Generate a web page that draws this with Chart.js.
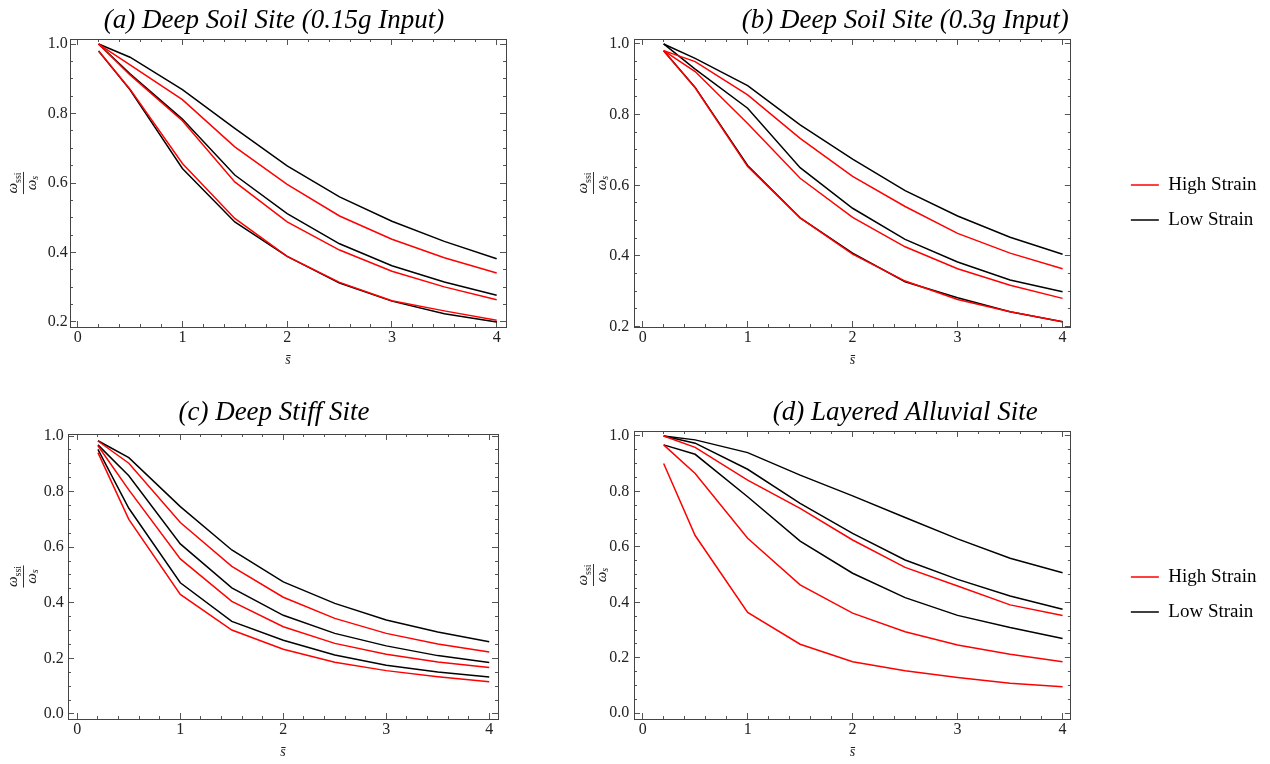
<!DOCTYPE html>
<html>
<head>
<meta charset="utf-8">
<script src="https://cdn.jsdelivr.net/npm/chart.js@4.4.1/dist/chart.umd.min.js"></script>
<style>
  body { margin: 0; background: #fff; width: 1270px; height: 764px; overflow: hidden; position: relative; }
  canvas { position: absolute; }
</style>
</head>
<body>
<canvas id="chartA" width="548" height="372" style="left:0px;top:0px"></canvas>
<canvas id="chartB" width="726" height="405" style="left:544px;top:0px"></canvas>
<canvas id="chartC" width="548" height="384" style="left:0px;top:380px"></canvas>
<canvas id="chartD" width="726" height="429" style="left:544px;top:380px"></canvas>
<script>
// s-bar values (x)
const sBar = [0.2, 0.5, 1, 1.5, 2, 2.5, 3, 3.5, 4];

// (a) Deep Soil Site (0.15g Input)
const aHigh1 = [1.0, 0.94, 0.84, 0.704, 0.596, 0.505, 0.438, 0.385, 0.341];
const aHigh2 = [1.0, 0.911, 0.779, 0.603, 0.488, 0.407, 0.346, 0.301, 0.264];
const aHigh3 = [0.98, 0.87, 0.656, 0.498, 0.389, 0.314, 0.261, 0.232, 0.205];
const aLow1 = [1.0, 0.962, 0.869, 0.757, 0.649, 0.56, 0.49, 0.432, 0.382];
const aLow2 = [1.0, 0.914, 0.784, 0.623, 0.512, 0.425, 0.362, 0.315, 0.277];
const aLow3 = [0.98, 0.868, 0.642, 0.488, 0.389, 0.312, 0.26, 0.224, 0.2];

// (b) Deep Soil Site (0.3g Input)
const bHigh1 = [0.981, 0.95, 0.856, 0.733, 0.625, 0.54, 0.464, 0.408, 0.364];
const bHigh2 = [0.981, 0.922, 0.775, 0.62, 0.509, 0.426, 0.364, 0.317, 0.28];
const bHigh3 = [0.981, 0.876, 0.653, 0.508, 0.405, 0.329, 0.277, 0.242, 0.214];
const bLow1 = [1.0, 0.959, 0.882, 0.771, 0.674, 0.585, 0.513, 0.453, 0.405];
const bLow2 = [1.0, 0.929, 0.818, 0.65, 0.535, 0.447, 0.383, 0.332, 0.299];
const bLow3 = [0.981, 0.877, 0.656, 0.508, 0.408, 0.327, 0.282, 0.242, 0.214];

// (c) Deep Stiff Site
const cHigh1 = [0.982, 0.902, 0.689, 0.531, 0.42, 0.344, 0.29, 0.252, 0.223];
const cHigh2 = [0.965, 0.806, 0.558, 0.405, 0.314, 0.254, 0.215, 0.187, 0.167];
const cHigh3 = [0.94, 0.70, 0.43, 0.302, 0.233, 0.186, 0.156, 0.134, 0.116];
const cLow1 = [0.983, 0.922, 0.746, 0.59, 0.475, 0.398, 0.338, 0.295, 0.26];
const cLow2 = [0.968, 0.857, 0.612, 0.454, 0.355, 0.29, 0.245, 0.21, 0.185];
const cLow3 = [0.952, 0.74, 0.472, 0.333, 0.265, 0.212, 0.175, 0.151, 0.133];

// (d) Layered Alluvial Site
const dHigh1 = [1.0, 0.959, 0.841, 0.739, 0.625, 0.526, 0.459, 0.391, 0.353];
const dHigh2 = [0.968, 0.865, 0.631, 0.463, 0.361, 0.294, 0.246, 0.213, 0.186];
const dHigh3 = [0.901, 0.641, 0.364, 0.249, 0.186, 0.153, 0.129, 0.108, 0.096];
const dLow1 = [1.0, 0.986, 0.94, 0.859, 0.784, 0.706, 0.629, 0.559, 0.507];
const dLow2 = [1.0, 0.974, 0.88, 0.757, 0.649, 0.553, 0.483, 0.423, 0.375];
const dLow3 = [0.968, 0.934, 0.781, 0.621, 0.505, 0.417, 0.353, 0.309, 0.27];

// tick labels
const xTicks = [0, 1, 2, 3, 4];
const yTicksTop = [0.2, 0.4, 0.6, 0.8, 1.0];
const yTicksBottom = [0.0, 0.2, 0.4, 0.6, 0.8, 1.0];
const legendLabels = ['High Strain', 'Low Strain'];

Chart.defaults.font.family = "'Liberation Serif', 'Times New Roman', serif";
Chart.defaults.color = '#222';

const SERIF = "'Liberation Serif', 'Times New Roman', serif";
const FRAME = '#444';
const TICKC = '#555';

// minor tick positions (every 0.2 on x, every 0.05 on y)
function steps(from, to, step) {
  const out = [];
  for (let i = 0; from + i * step <= to + 1e-9; i++) out.push(Math.round((from + i * step) * 1000) / 1000);
  return out;
}
const xMinorTicks = steps(0, 4, 0.2);
const yMinorTicks = steps(0, 1, 0.05);

// the omega_ssi / omega_s fraction on the left
const fracLabel = {
  id: 'fracLabel',
  afterDraw(chart, args, opts) {
    const {ctx, chartArea} = chart;
    const cy = (chartArea.top + chartArea.bottom) / 2;
    ctx.save();
    ctx.translate(opts.x, cy);
    ctx.rotate(-Math.PI / 2);
    ctx.fillStyle = '#222';
    ctx.textBaseline = 'alphabetic';
    ctx.textAlign = 'left';
    const big = 'italic 15px ' + SERIF;
    const sub = '10px ' + SERIF;
    const subI = 'italic 10px ' + SERIF;
    // numerator
    ctx.font = big; const w1 = ctx.measureText('ω').width;
    ctx.font = sub; const w2 = ctx.measureText('ssi').width;
    let x0 = -(w1 + w2) / 2;
    ctx.font = big; ctx.fillText('ω', x0, -6);
    ctx.font = sub; ctx.fillText('ssi', x0 + w1, -2);
    // bar
    const bw = w1 + w2 + 1;
    ctx.strokeStyle = '#333';
    ctx.lineWidth = 1;
    ctx.beginPath(); ctx.moveTo(-bw / 2, 0.5); ctx.lineTo(bw / 2, 0.5); ctx.stroke();
    // denominator
    ctx.font = subI; const w4 = ctx.measureText('s').width;
    x0 = -(w1 + w4) / 2;
    ctx.font = big; ctx.fillText('ω', x0, 13);
    ctx.font = subI; ctx.fillText('s', x0 + w1, 15);
    ctx.restore();
  }
};

function tickAxis(axis, position, range, vals, len, size, extra) {
  const s = {
    type: 'linear', axis: axis, position: position, min: range[0], max: range[1],
    weight: -1,
    afterBuildTicks: sc => { sc.ticks = vals.filter(v => v >= range[0] && v <= range[1]).map(v => ({value: v})); },
    ticks: {display: false},
    grid: {drawOnChartArea: false, drawTicks: true, tickLength: -len, tickColor: TICKC, tickWidth: 1},
    border: {display: false},
    afterFit: sc => { if (axis === 'x') sc.height = size; else sc.width = size; }
  };
  return Object.assign(s, extra || {});
}

function panel(id, p) {
  const datasets = [];
  p.high.forEach(arr => datasets.push({
    label: legendLabels[0], data: sBar.map((s, k) => ({x: s, y: arr[k]})),
    borderColor: '#ff0000', backgroundColor: '#ff0000', borderWidth: 1.5,
    pointRadius: 0, tension: 0, xAxisID: 'x', yAxisID: 'y'
  }));
  p.low.forEach(arr => datasets.push({
    label: legendLabels[1], data: sBar.map((s, k) => ({x: s, y: arr[k]})),
    borderColor: '#000000', backgroundColor: '#000000', borderWidth: 1.5,
    pointRadius: 0, tension: 0, xAxisID: 'x', yAxisID: 'y'
  }));

  const scales = {
    xMinor: tickAxis('x', 'bottom', p.xr, xMinorTicks, 3, 0),
    x: tickAxis('x', 'bottom', p.xr, xTicks, 6, p.xH, {
      weight: 0,
      ticks: {display: true, font: {size: 16}, color: '#222', padding: 7.4, maxRotation: 0, autoSkip: false,
        callback: v => String(v)},
      border: {display: true, color: FRAME, width: 1},
      title: {display: true, text: 's\u0304', color: '#222',
        font: {size: 14, style: 'italic'}, padding: {top: 0, bottom: p.xTitlePad}}
    }),
    xTopMinor: tickAxis('x', 'top', p.xr, xMinorTicks, 3, 0),
    xTop: tickAxis('x', 'top', p.xr, xTicks, 6, 0, {weight: 0, border: {display: true, color: FRAME, width: 1}}),
    yMinor: tickAxis('y', 'left', p.yr, yMinorTicks, 3, 0),
    y: tickAxis('y', 'left', p.yr, p.yTicks, 6, p.yW, {
      weight: 0,
      ticks: {display: true, font: {size: 16}, color: '#222', padding: p.yPad, autoSkip: false,
        callback: v => v.toFixed(1)},
      border: {display: true, color: FRAME, width: 1}
    }),
    yRightMinor: tickAxis('y', 'right', p.yr, yMinorTicks, 3, 0),
    yRight: tickAxis('y', 'right', p.yr, p.yTicks, 6, p.rightW, {weight: 0, border: {display: true, color: FRAME, width: 1}})
  };

  new Chart(document.getElementById(id), {
    type: 'line',
    data: {datasets: datasets},
    options: {
      responsive: false,
      animation: false,
      devicePixelRatio: 1,
      layout: {padding: {left: 0, top: 0, bottom: 0, right: p.padRight || 0}},
      plugins: {
        title: {
          display: true, text: p.title, color: '#000',
          font: {size: 27, style: 'italic', weight: 'normal'},
          padding: {top: p.titleTop, bottom: p.titleBottom}
        },
        legend: {
          display: !!p.legend, position: 'right', align: 'center', maxWidth: p.legendW,
          labels: {
            usePointStyle: true, pointStyle: 'line', pointStyleWidth: 28,
            font: {size: 19}, color: '#000', padding: 16,
            filter: item => item.datasetIndex === 0 || item.datasetIndex === 3
          }
        },
        tooltip: {enabled: false},
        fracLabel: {x: p.fracX}
      },
      scales: scales
    },
    plugins: [fracLabel]
  });
}

panel('chartA', {
  title: '(a) Deep Soil Site (0.15g Input)',
  high: [aHigh1, aHigh2, aHigh3], low: [aLow1, aLow2, aLow3],
  xr: [-0.073, 4.089], yr: [0.1856, 1.0144], yTicks: yTicksTop,
  yW: 70, rightW: 42, xH: 45, xTitlePad: 3.6, yPad: 8.3, fracX: 23,
  titleTop: 4.8, titleBottom: 1.8, legend: false
});
panel('chartB', {
  title: '(b) Deep Soil Site (0.3g Input)',
  high: [bHigh1, bHigh2, bHigh3], low: [bLow1, bLow2, bLow3],
  xr: [-0.0825, 4.079], yr: [0.199, 1.014], yTicks: yTicksTop,
  yW: 90, rightW: 44, xH: 78, xTitlePad: 36.6, yPad: 10.7, fracX: 49,
  titleTop: 4.8, titleBottom: 1.8, legend: true, legendW: 155, padRight: 3.5
});
panel('chartC', {
  title: '(c) Deep Stiff Site',
  high: [cHigh1, cHigh2, cHigh3], low: [cLow1, cLow2, cLow3],
  xr: [-0.0906, 4.085], yr: [-0.018, 1.0072], yTicks: yTicksBottom,
  yW: 68, rightW: 50, xH: 45, xTitlePad: 3.6, yPad: 10.3, fracX: 23,
  titleTop: 16.8, titleBottom: 4.8, legend: false
});
panel('chartD', {
  title: '(d) Layered Alluvial Site',
  high: [dHigh1, dHigh2, dHigh3], low: [dLow1, dLow2, dLow3],
  xr: [-0.0825, 4.079], yr: [-0.0206, 1.018], yTicks: yTicksBottom,
  yW: 90, rightW: 44, xH: 90, xTitlePad: 48.6, yPad: 10.7, fracX: 49,
  titleTop: 16.8, titleBottom: 1.8, legend: true, legendW: 155, padRight: 3.5
});
</script>
</body>
</html>
